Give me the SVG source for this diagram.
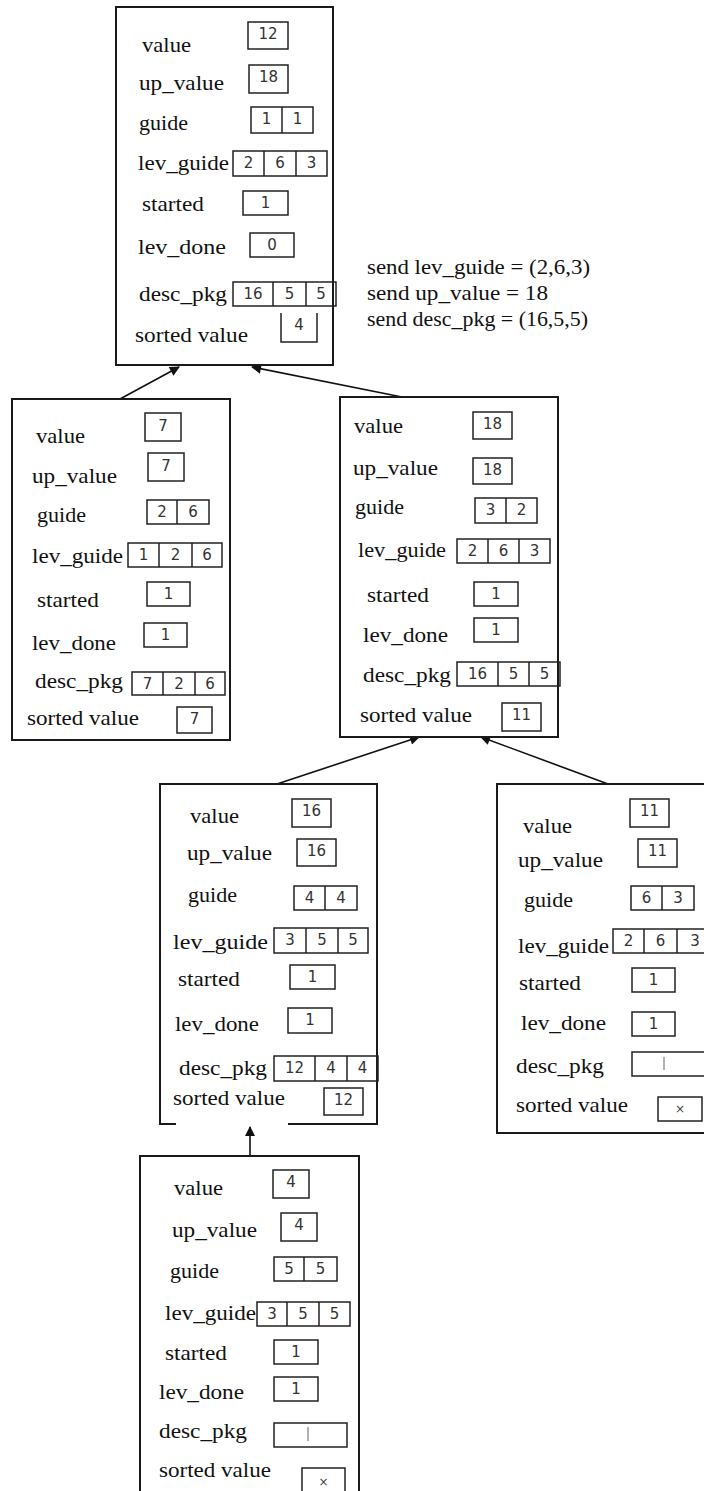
<svg xmlns="http://www.w3.org/2000/svg" width="704" height="1491" viewBox="0 0 704 1491">
<style>
.nb{fill:#fff;stroke:#1a1a1a;stroke-width:2}
.open{fill:none;stroke:#1a1a1a;stroke-width:2}
.cell{fill:none;stroke:#222;stroke-width:1.5}
.lbl{font-family:"Liberation Serif","Times New Roman",serif;font-size:21px;fill:#111}
.num{font-family:"DejaVu Sans",sans-serif;font-size:15px;fill:#333;text-anchor:middle}
.x{font-family:"DejaVu Sans",sans-serif;font-size:12px;fill:#444;text-anchor:middle}
.mark{stroke:#999;stroke-width:1.5}
.conn{stroke:#111;stroke-width:1.6;fill:none;marker-end:url(#ah)}
</style>
<defs>
<marker id="ah" viewBox="0 0 10 10" refX="9" refY="5" markerWidth="12" markerHeight="10" markerUnits="userSpaceOnUse" orient="auto"><path d="M0,0 L10,5 L0,10 z" fill="#111"/></marker>
</defs>
<rect width="704" height="1491" fill="#fff"/>

<g id="connectors">
<path class="conn" d="M120,399 L179,367"/>
<path class="conn" d="M402,397 L252,367"/>
<path class="conn" d="M277,784 L419,737"/>
<path class="conn" d="M608,784 L481,737"/>
<path class="conn" d="M250,1156 L250,1127"/>
</g>

<g id="node-top">
<rect class="nb" x="116" y="7" width="217" height="358"/>
<text class="lbl" x="142" y="52" textLength="49" lengthAdjust="spacingAndGlyphs">value</text>
<text class="lbl" x="139" y="90" textLength="85" lengthAdjust="spacingAndGlyphs">up_value</text>
<text class="lbl" x="139" y="130" textLength="49" lengthAdjust="spacingAndGlyphs">guide</text>
<text class="lbl" x="138" y="170" textLength="91" lengthAdjust="spacingAndGlyphs">lev_guide</text>
<text class="lbl" x="142" y="211" textLength="62" lengthAdjust="spacingAndGlyphs">started</text>
<text class="lbl" x="138" y="254" textLength="88" lengthAdjust="spacingAndGlyphs">lev_done</text>
<text class="lbl" x="139" y="301" textLength="88" lengthAdjust="spacingAndGlyphs">desc_pkg</text>
<text class="lbl" x="135" y="342" textLength="113" lengthAdjust="spacingAndGlyphs">sorted value</text>
<rect class="cell" x="248" y="22" width="40" height="27"/><text class="num" x="268" y="39">12</text>
<rect class="cell" x="249" y="65" width="39" height="28"/><text class="num" x="268.5" y="82">18</text>
<rect class="cell" x="251" y="107" width="62" height="26"/><line class="cell" x1="282" y1="107" x2="282" y2="133"/>
<text class="num" x="266.5" y="124">1</text><text class="num" x="297.5" y="124">1</text>
<rect class="cell" x="233" y="151" width="94" height="25"/><line class="cell" x1="264" y1="151" x2="264" y2="176"/><line class="cell" x1="296" y1="151" x2="296" y2="176"/>
<text class="num" x="248.5" y="168">2</text><text class="num" x="280" y="168">6</text><text class="num" x="311.5" y="168">3</text>
<rect class="cell" x="243" y="191" width="45" height="24"/><text class="num" x="265.5" y="208">1</text>
<rect class="cell" x="250" y="233" width="44" height="24"/><text class="num" x="272" y="250">0</text>
<rect class="cell" x="233" y="282" width="103" height="24"/><line class="cell" x1="273" y1="282" x2="273" y2="306"/><line class="cell" x1="306" y1="282" x2="306" y2="306"/>
<text class="num" x="253" y="299">16</text><text class="num" x="289.5" y="299">5</text><text class="num" x="321" y="299">5</text>
<path class="cell" d="M281,313 L281,342 L317,342 L317,313"/><text class="num" x="299" y="330">4</text>
</g>

<g id="send-note">
<text class="lbl" x="367" y="274" textLength="223" lengthAdjust="spacingAndGlyphs">send lev_guide = (2,6,3)</text>
<text class="lbl" x="367" y="300" textLength="181" lengthAdjust="spacingAndGlyphs">send up_value = 18</text>
<text class="lbl" x="367" y="326" textLength="221" lengthAdjust="spacingAndGlyphs">send desc_pkg = (16,5,5)</text>
</g>

<g id="node-left">
<rect class="nb" x="12" y="399" width="218" height="341"/>
<text class="lbl" x="36" y="443" textLength="49" lengthAdjust="spacingAndGlyphs">value</text>
<text class="lbl" x="32" y="483" textLength="85" lengthAdjust="spacingAndGlyphs">up_value</text>
<text class="lbl" x="37" y="522" textLength="49" lengthAdjust="spacingAndGlyphs">guide</text>
<text class="lbl" x="32" y="563" textLength="91" lengthAdjust="spacingAndGlyphs">lev_guide</text>
<text class="lbl" x="37" y="607" textLength="62" lengthAdjust="spacingAndGlyphs">started</text>
<text class="lbl" x="32" y="650" textLength="84" lengthAdjust="spacingAndGlyphs">lev_done</text>
<text class="lbl" x="35" y="688" textLength="88" lengthAdjust="spacingAndGlyphs">desc_pkg</text>
<text class="lbl" x="27" y="725" textLength="112" lengthAdjust="spacingAndGlyphs">sorted value</text>
<rect class="cell" x="145" y="413" width="36" height="28"/><text class="num" x="163" y="431">7</text>
<rect class="cell" x="148" y="453" width="36" height="28"/><text class="num" x="166" y="471">7</text>
<rect class="cell" x="147" y="500" width="62" height="24"/><line class="cell" x1="177" y1="500" x2="177" y2="524"/>
<text class="num" x="162" y="517">2</text><text class="num" x="193" y="517">6</text>
<rect class="cell" x="128" y="543" width="94" height="24"/><line class="cell" x1="159" y1="543" x2="159" y2="567"/><line class="cell" x1="192" y1="543" x2="192" y2="567"/>
<text class="num" x="143.5" y="560">1</text><text class="num" x="175.5" y="560">2</text><text class="num" x="207" y="560">6</text>
<rect class="cell" x="147" y="582" width="43" height="24"/><text class="num" x="168.5" y="599">1</text>
<rect class="cell" x="144" y="623" width="43" height="24"/><text class="num" x="165.5" y="640">1</text>
<rect class="cell" x="132" y="672" width="93" height="23"/><line class="cell" x1="163" y1="672" x2="163" y2="695"/><line class="cell" x1="195" y1="672" x2="195" y2="695"/>
<text class="num" x="147.5" y="689">7</text><text class="num" x="179" y="689">2</text><text class="num" x="210" y="689">6</text>
<rect class="cell" x="177" y="707" width="35" height="26"/><text class="num" x="194.5" y="724">7</text>
</g>

<g id="node-right">
<rect class="nb" x="340" y="397" width="218" height="340"/>
<text class="lbl" x="354" y="433" textLength="49" lengthAdjust="spacingAndGlyphs">value</text>
<text class="lbl" x="353" y="475" textLength="85" lengthAdjust="spacingAndGlyphs">up_value</text>
<text class="lbl" x="355" y="514" textLength="49" lengthAdjust="spacingAndGlyphs">guide</text>
<text class="lbl" x="358" y="557" textLength="88" lengthAdjust="spacingAndGlyphs">lev_guide</text>
<text class="lbl" x="367" y="602" textLength="62" lengthAdjust="spacingAndGlyphs">started</text>
<text class="lbl" x="363" y="642" textLength="85" lengthAdjust="spacingAndGlyphs">lev_done</text>
<text class="lbl" x="363" y="682" textLength="88" lengthAdjust="spacingAndGlyphs">desc_pkg</text>
<text class="lbl" x="360" y="722" textLength="112" lengthAdjust="spacingAndGlyphs">sorted value</text>
<rect class="cell" x="473" y="412" width="39" height="27"/><text class="num" x="492.5" y="429">18</text>
<rect class="cell" x="473" y="458" width="39" height="26"/><text class="num" x="492.5" y="475">18</text>
<rect class="cell" x="475" y="498" width="62" height="25"/><line class="cell" x1="506" y1="498" x2="506" y2="523"/>
<text class="num" x="490.5" y="515">3</text><text class="num" x="521.5" y="515">2</text>
<rect class="cell" x="457" y="539" width="93" height="24"/><line class="cell" x1="488" y1="539" x2="488" y2="563"/><line class="cell" x1="519" y1="539" x2="519" y2="563"/>
<text class="num" x="472.5" y="556">2</text><text class="num" x="503.5" y="556">6</text><text class="num" x="534.5" y="556">3</text>
<rect class="cell" x="474" y="582" width="44" height="24"/><text class="num" x="496" y="599">1</text>
<rect class="cell" x="474" y="618" width="44" height="24"/><text class="num" x="496" y="635">1</text>
<rect class="cell" x="457" y="662" width="103" height="24"/><line class="cell" x1="498" y1="662" x2="498" y2="686"/><line class="cell" x1="529" y1="662" x2="529" y2="686"/>
<text class="num" x="477.5" y="679">16</text><text class="num" x="513.5" y="679">5</text><text class="num" x="544.5" y="679">5</text>
<rect class="cell" x="502" y="703" width="39" height="28"/><text class="num" x="521.5" y="720">11</text>
</g>

<g id="node-mid">
<path class="open" d="M176,1124 L160,1124 L160,784 L377,784 L377,1124 L288,1124"/>
<text class="lbl" x="190" y="823" textLength="49" lengthAdjust="spacingAndGlyphs">value</text>
<text class="lbl" x="187" y="860" textLength="85" lengthAdjust="spacingAndGlyphs">up_value</text>
<text class="lbl" x="188" y="902" textLength="49" lengthAdjust="spacingAndGlyphs">guide</text>
<text class="lbl" x="173" y="949" textLength="95" lengthAdjust="spacingAndGlyphs">lev_guide</text>
<text class="lbl" x="178" y="986" textLength="62" lengthAdjust="spacingAndGlyphs">started</text>
<text class="lbl" x="175" y="1031" textLength="84" lengthAdjust="spacingAndGlyphs">lev_done</text>
<text class="lbl" x="179" y="1075" textLength="88" lengthAdjust="spacingAndGlyphs">desc_pkg</text>
<text class="lbl" x="173" y="1105" textLength="112" lengthAdjust="spacingAndGlyphs">sorted value</text>
<rect class="cell" x="292" y="799" width="39" height="28"/><text class="num" x="311.5" y="816">16</text>
<rect class="cell" x="297" y="839" width="39" height="27"/><text class="num" x="316.5" y="856">16</text>
<rect class="cell" x="294" y="886" width="63" height="24"/><line class="cell" x1="325" y1="886" x2="325" y2="910"/>
<text class="num" x="309.5" y="903">4</text><text class="num" x="341" y="903">4</text>
<rect class="cell" x="274" y="928" width="94" height="25"/><line class="cell" x1="306" y1="928" x2="306" y2="953"/><line class="cell" x1="338" y1="928" x2="338" y2="953"/>
<text class="num" x="290" y="945">3</text><text class="num" x="322" y="945">5</text><text class="num" x="353" y="945">5</text>
<rect class="cell" x="290" y="965" width="45" height="24"/><text class="num" x="312.5" y="982">1</text>
<rect class="cell" x="288" y="1008" width="44" height="25"/><text class="num" x="310" y="1025">1</text>
<rect class="cell" x="274" y="1056" width="104" height="25"/><line class="cell" x1="315" y1="1056" x2="315" y2="1081"/><line class="cell" x1="347" y1="1056" x2="347" y2="1081"/>
<text class="num" x="294.5" y="1073">12</text><text class="num" x="331" y="1073">4</text><text class="num" x="362.5" y="1073">4</text>
<rect class="cell" x="324" y="1088" width="39" height="27"/><text class="num" x="343.5" y="1105">12</text>
</g>

<g id="node-lower-right">
<rect class="nb" x="497" y="784" width="215" height="349"/>
<text class="lbl" x="523" y="833" textLength="49" lengthAdjust="spacingAndGlyphs">value</text>
<text class="lbl" x="518" y="867" textLength="85" lengthAdjust="spacingAndGlyphs">up_value</text>
<text class="lbl" x="524" y="907" textLength="49" lengthAdjust="spacingAndGlyphs">guide</text>
<text class="lbl" x="518" y="953" textLength="91" lengthAdjust="spacingAndGlyphs">lev_guide</text>
<text class="lbl" x="519" y="990" textLength="62" lengthAdjust="spacingAndGlyphs">started</text>
<text class="lbl" x="521" y="1030" textLength="85" lengthAdjust="spacingAndGlyphs">lev_done</text>
<text class="lbl" x="516" y="1073" textLength="88" lengthAdjust="spacingAndGlyphs">desc_pkg</text>
<text class="lbl" x="516" y="1112" textLength="112" lengthAdjust="spacingAndGlyphs">sorted value</text>
<rect class="cell" x="630" y="799" width="39" height="28"/><text class="num" x="649.5" y="816">11</text>
<rect class="cell" x="638" y="839" width="39" height="28"/><text class="num" x="657.5" y="856">11</text>
<rect class="cell" x="631" y="886" width="63" height="24"/><line class="cell" x1="662" y1="886" x2="662" y2="910"/>
<text class="num" x="646.5" y="903">6</text><text class="num" x="678" y="903">3</text>
<rect class="cell" x="613" y="929" width="96" height="24"/><line class="cell" x1="644" y1="929" x2="644" y2="953"/><line class="cell" x1="677" y1="929" x2="677" y2="953"/>
<text class="num" x="628.5" y="946">2</text><text class="num" x="660.5" y="946">6</text><text class="num" x="695" y="946">3</text>
<rect class="cell" x="632" y="968" width="43" height="24"/><text class="num" x="653.5" y="985">1</text>
<rect class="cell" x="632" y="1012" width="43" height="24"/><text class="num" x="653.5" y="1029">1</text>
<rect class="cell" x="632" y="1052" width="75" height="24"/><line class="mark" x1="664" y1="1057" x2="664" y2="1070"/>
<rect class="cell" x="658" y="1097" width="44" height="24"/><text class="x" x="680" y="1113">×</text>
</g>

<g id="node-bottom">
<path class="open" d="M140,1495 L140,1156 L359,1156 L359,1495"/>
<text class="lbl" x="174" y="1195" textLength="49" lengthAdjust="spacingAndGlyphs">value</text>
<text class="lbl" x="172" y="1237" textLength="85" lengthAdjust="spacingAndGlyphs">up_value</text>
<text class="lbl" x="170" y="1278" textLength="49" lengthAdjust="spacingAndGlyphs">guide</text>
<text class="lbl" x="165" y="1320" textLength="91" lengthAdjust="spacingAndGlyphs">lev_guide</text>
<text class="lbl" x="165" y="1360" textLength="62" lengthAdjust="spacingAndGlyphs">started</text>
<text class="lbl" x="159" y="1399" textLength="85" lengthAdjust="spacingAndGlyphs">lev_done</text>
<text class="lbl" x="159" y="1438" textLength="88" lengthAdjust="spacingAndGlyphs">desc_pkg</text>
<text class="lbl" x="159" y="1477" textLength="112" lengthAdjust="spacingAndGlyphs">sorted value</text>
<rect class="cell" x="273" y="1170" width="36" height="28"/><text class="num" x="291" y="1187">4</text>
<rect class="cell" x="281" y="1213" width="36" height="28"/><text class="num" x="299" y="1230">4</text>
<rect class="cell" x="274" y="1257" width="63" height="24"/><line class="cell" x1="304" y1="1257" x2="304" y2="1281"/>
<text class="num" x="289" y="1274">5</text><text class="num" x="320.5" y="1274">5</text>
<rect class="cell" x="257" y="1302" width="93" height="24"/><line class="cell" x1="287" y1="1302" x2="287" y2="1326"/><line class="cell" x1="319" y1="1302" x2="319" y2="1326"/>
<text class="num" x="272" y="1319">3</text><text class="num" x="303" y="1319">5</text><text class="num" x="334.5" y="1319">5</text>
<rect class="cell" x="274" y="1340" width="44" height="24"/><text class="num" x="296" y="1357">1</text>
<rect class="cell" x="274" y="1377" width="44" height="24"/><text class="num" x="296" y="1394">1</text>
<rect class="cell" x="274" y="1423" width="73" height="24"/><line class="mark" x1="308" y1="1427" x2="308" y2="1441"/>
<rect class="cell" x="302" y="1468" width="43" height="27"/><text class="x" x="323.5" y="1486">×</text>
</g>
</svg>
